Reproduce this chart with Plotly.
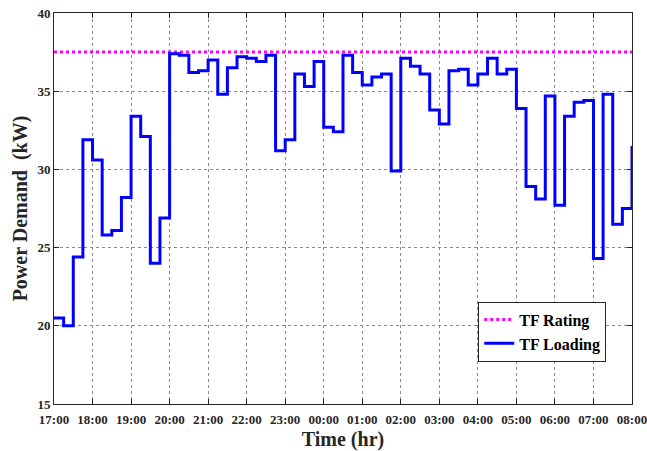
import pandas as pd
import plotly.graph_objects as go

# 15-minute load values from 17:00 to 08:00 (last value drawn at 08:00)
loading_kw = [
    20.5, 20.0, 24.4, 31.9,
    30.6, 25.8, 26.1, 28.2,
    33.4, 32.1, 24.0, 26.9,
    37.4, 37.3, 36.2, 36.3,
    37.0, 34.8, 36.5, 37.2,
    37.1, 36.9, 37.3, 31.2,
    31.9, 36.1, 35.3, 36.9,
    32.7, 32.4, 37.3, 36.2,
    35.4, 35.9, 36.1, 29.9,
    37.1, 36.6, 36.1, 33.8,
    32.9, 36.3, 36.4, 35.4,
    36.1, 37.1, 36.1, 36.4,
    33.9, 28.9, 28.1, 34.7,
    27.7, 33.4, 34.3, 34.4,
    24.3, 34.8, 26.5, 27.5,
    31.5,
]
rating_kw = 37.5
start_time = "2024-01-01 17:00"
end_time = "2024-01-02 08:00"
y_ticks = [15, 20, 25, 30, 35, 40]

times = pd.date_range(start_time, periods=len(loading_kw), freq="15min")
x_ticks = pd.date_range(start_time, end_time, freq="1h")
x_tick_text = [t.strftime("%H:%M") for t in x_ticks]
x_range_end = pd.Timestamp(end_time) + pd.Timedelta(seconds=1)

font_family = "Liberation Serif, Times New Roman, serif"

fig = go.Figure()
fig.add_trace(go.Scatter(
    x=[start_time, end_time], y=[rating_kw, rating_kw],
    mode="lines", name="TF Rating",
    line=dict(color="#ff00ff", width=3, dash="dot"),
))
fig.add_trace(go.Scatter(
    x=times, y=loading_kw, mode="lines", name="TF Loading",
    line=dict(color="#0000ff", width=3, shape="hv"),
))

axis_common = dict(
    showline=True, linecolor="#262626", linewidth=1, mirror="ticks",
    ticks="inside", ticklen=5, tickcolor="#262626",
    showgrid=True, gridcolor="#8a8a8a", griddash="dot", gridwidth=1,
    zeroline=False, automargin=False, ticklabeloverflow="allow",
    tickfont=dict(family=font_family, size=13, color="#262626", weight="bold"),
)

fig.update_xaxes(
    type="date", range=[start_time, x_range_end],
    tickmode="array", tickvals=x_ticks, ticktext=x_tick_text,
    ticklabelstandoff=3,
    title=dict(text="Time (hr)", font=dict(family=font_family, size=20, color="#262626", weight="bold"), standoff=6),
    **axis_common,
)
fig.update_yaxes(
    range=[15, 40], tickvals=y_ticks,
    title=dict(text="Power Demand\u00a0 (kW)", font=dict(family=font_family, size=20, color="#262626", weight="bold"), standoff=4),
    **axis_common,
)

fig.update_layout(
    width=647, height=451,
    margin=dict(l=54, r=15, t=13, b=47),
    paper_bgcolor="white", plot_bgcolor="white",
    showlegend=True,
    legend=dict(
        x=0.734, y=0.262, xanchor="left", yanchor="top",
        bgcolor="white", bordercolor="#262626", borderwidth=1,
        font=dict(family=font_family, size=16, color="black", weight="bold"),
        tracegroupgap=0, itemwidth=30,
    ),
)

fig.write_html("out.html")
